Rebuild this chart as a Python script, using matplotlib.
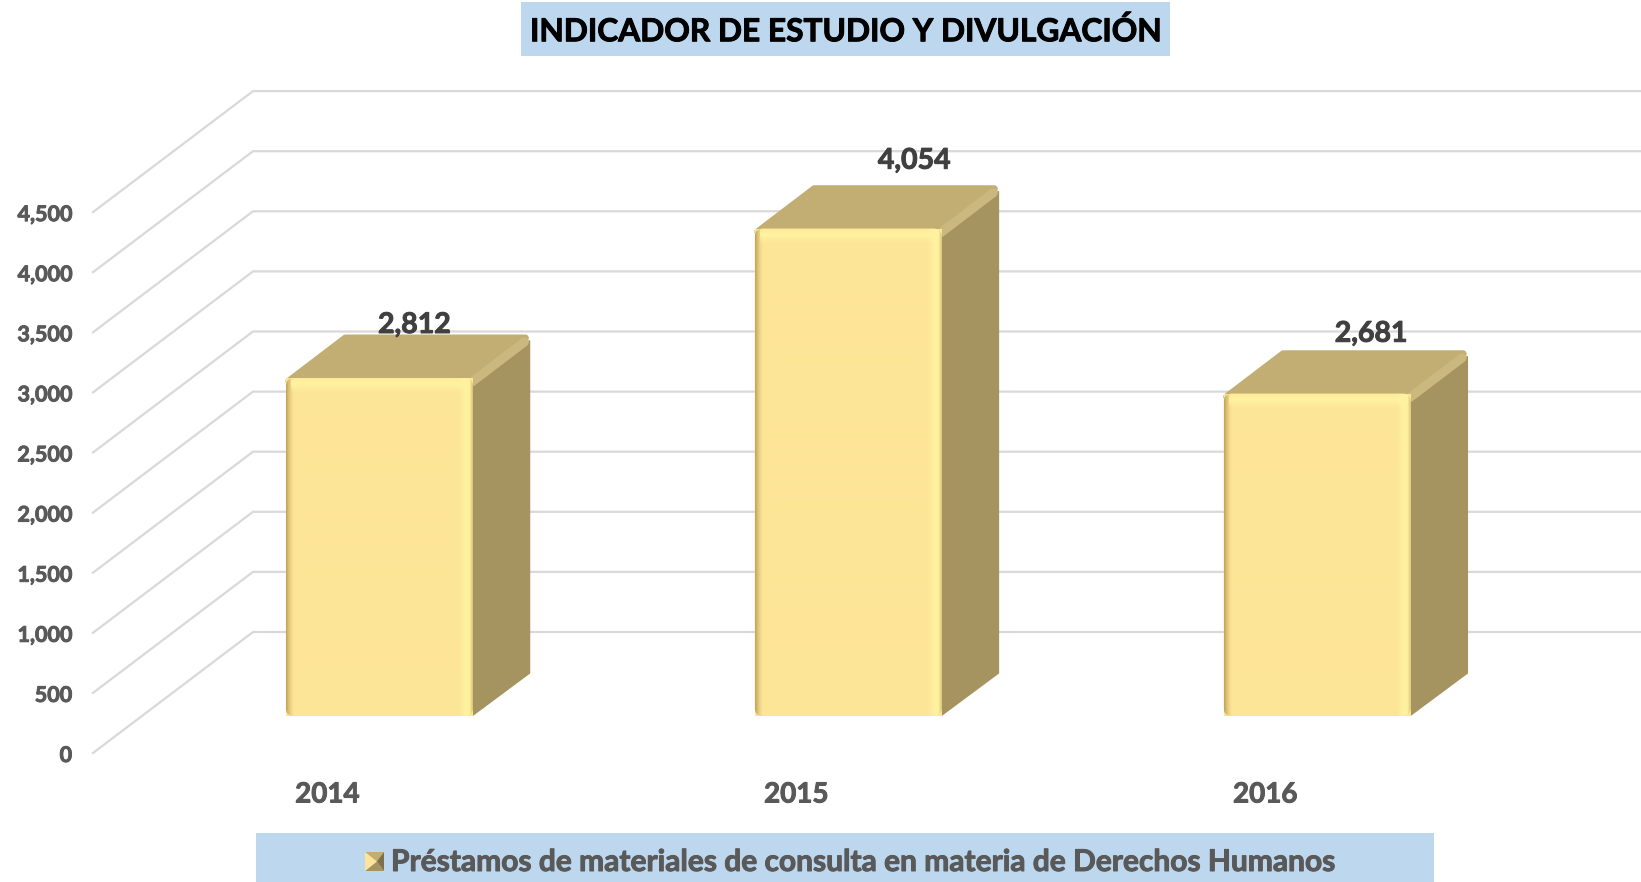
import numpy as np
import matplotlib
matplotlib.use('Agg')
import matplotlib.pyplot as plt
import matplotlib.patheffects as pe
from matplotlib.patches import Rectangle, Polygon, FancyBboxPatch
from matplotlib.colors import to_rgb

plt.rcParams['font.family'] = ['Lato', 'DejaVu Sans']

title = 'INDICADOR DE ESTUDIO Y DIVULGACIÓN'
legend_text = 'Préstamos de materiales de consulta en materia de Derechos Humanos'
years = ['2014', '2015', '2016']
values = [2812, 4054, 2681]
value_labels = ['2,812', '4,054', '2,681']
ticks = [0, 500, 1000, 1500, 2000, 2500, 3000, 3500, 4000, 4500]
tick_labels = ['0', '500', '1,000', '1,500', '2,000', '2,500', '3,000', '3,500', '4,000', '4,500']
label_lift = [53, 68, 60]  # px above the front face top
label_shift = [35, 66, 54]  # px right of the bar centre

W, H = 1641, 882
step_px = 468.9      # between categories
unit_px = 60.1 / 500  # px per value unit
x0_px = 379.4
y0_px = 716.0


def dx(px):
    return px / step_px


def dy(px):
    return px / unit_px


def bold_text(axis, x, y, s, color, **kw):
    # Lato bold is a little lighter than the original face
    t = axis.text(x, y, s, color=color, fontweight='bold', **kw)
    t.set_path_effects([pe.withStroke(linewidth=0.7, foreground=color)])
    return t


fig = plt.figure(figsize=(W / 100, H / 100), dpi=100, facecolor='white')
ax = fig.add_axes([0, 0, 1, 1])
ax.set_xlim(-x0_px / step_px, (W - x0_px) / step_px)
ax.set_ylim(-(H - y0_px) / unit_px, y0_px / unit_px)
ax.axis('off')

# walls: gridlines go from the front left corner to the back, then along the back
x_front, x_back = dx(93 - x0_px), dx(253 - x0_px)
for t, lab in zip(ticks, tick_labels):
    ax.plot([x_front, x_back, ax.get_xlim()[1]], [t - dy(37), t + dy(84), t + dy(84)],
            color='#D9D9D9', lw=1.6, zorder=1, solid_joinstyle='miter')
    bold_text(ax, dx(72 - x0_px), t - dy(39.5), lab, '#595959',
              ha='right', va='center', fontsize=15.5)

bar_w = dx(187)
depth_x, depth_y = dx(56.5), dy(43)
radius = dx(8)
base = np.array(to_rgb('#FDE597'))
light = np.array(to_rgb('#FFF3A0'))
dark = np.array(to_rgb('#C4A65C'))


def shade(w_px, h_px):
    img = np.tile(base, (h_px, w_px, 1))
    # soft highlight down the right side
    for i in range(18):
        a = max(1 - abs(i - 11) / 8, 0)
        img[:, w_px - 18 + i] = light * a + base * (1 - a)
    for i in range(3):
        a = (1 - i / 3) * .6
        img[:, w_px - 1 - i] = dark * a + light * (1 - a)
    # darker left edge
    for i in range(8):
        a = (1 - i / 8) ** 1.6
        img[:, i] = dark * a + base * (1 - a)
    # highlight along the top
    for i in range(16):
        a = max(1 - abs(i - 6) / 9, 0)
        img[i, 5:w_px - 3] = light * a + img[i, 5:w_px - 3] * (1 - a)
    return img


for i, v in enumerate(values):
    l, r = i - bar_w / 2, i + bar_w / 2
    # side
    ax.add_patch(Polygon([(r, dy(1)), (r + depth_x, depth_y), (r + depth_x, v + depth_y - dy(6)),
                          (r, v)], closed=True, fc='#A59360', ec='#A59360', lw=1.2, zorder=3,
                         joinstyle='round'))
    # top
    ax.add_patch(Polygon([(l + dx(3), v - dy(3)), (l + depth_x + dx(3), v + depth_y - dy(3)),
                          (r + depth_x - dx(4), v + depth_y - dy(3)), (r - dx(3), v - dy(3))],
                         closed=True, fc='#C2AE72', ec='#C2AE72', lw=5, zorder=3,
                         joinstyle='round'))
    # lighter bevel on the right edge of the top
    ax.plot([r - dx(1), r + depth_x - dx(5)], [v - dy(4), v + depth_y - dy(7)],
            color='#CBB87E', lw=6.5, zorder=3.5, solid_capstyle='round')
    # front
    ax.bar(i, v, width=bar_w, color='#FDE597', zorder=4)
    clip = FancyBboxPatch((l, 0), bar_w, v, boxstyle=f'round,pad=0,rounding_size={radius}',
                          mutation_aspect=dy(8) / radius, fc='#FDE597', ec='none', zorder=4)
    ax.add_patch(clip)
    im = ax.imshow(shade(187, int(v * unit_px)), extent=(l, r, 0, v), aspect='auto', zorder=5,
                   interpolation='bilinear')
    im.set_clip_path(clip)
    bold_text(ax, i + dx(label_shift[i]), v + dy(label_lift[i]), value_labels[i], '#404040',
              ha='center', va='center', fontsize=20.5, zorder=6)
    bold_text(ax, i - dx(52), -dy(78.5), years[i], '#595959',
              ha='center', va='center', fontsize=20, zorder=6)

ax.set_xlim(-x0_px / step_px, (W - x0_px) / step_px)
ax.set_ylim(-(H - y0_px) / unit_px, y0_px / unit_px)

# overlay in pixels for title and legend boxes
ov = fig.add_axes([0, 0, 1, 1])
ov.set_xlim(0, W)
ov.set_ylim(H, 0)
ov.axis('off')
ov.patch.set_alpha(0)
ov.add_patch(Rectangle((521, 2), 649, 54, fc='#BDD7EE', ec='none'))
bold_text(ov, 845, 31, title, 'black', ha='center', va='center', fontsize=22.8)
ov.add_patch(Rectangle((256, 833), 1178, 49, fc='#BDD7EE', ec='none'))
bold_text(ov, 391, 862, legend_text, '#595959', ha='left', va='center', fontsize=21.55)

# legend key: little bevelled square
kx, ky, ks = 365, 852, 19
c = (kx + ks * .62, ky + ks * .5)
ov.add_patch(Polygon([(kx, ky), (kx + ks, ky), c], fc='#C2AE72', ec='none'))
ov.add_patch(Polygon([(kx + ks, ky), (kx + ks, ky + ks), c], fc='#7E7048', ec='none'))
ov.add_patch(Polygon([(kx, ky + ks), (kx + ks, ky + ks), c], fc='#A59360', ec='none'))
ov.add_patch(Polygon([(kx, ky), (kx, ky + ks), c], fc='#FDE597', ec='none'))

fig.savefig('out.png', dpi=100, facecolor='white')
